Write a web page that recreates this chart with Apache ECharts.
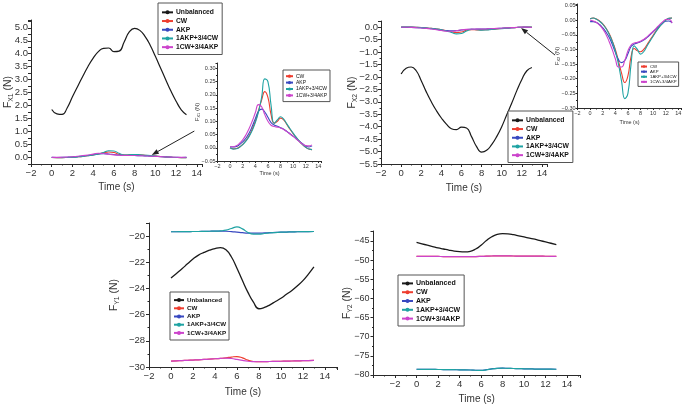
<!DOCTYPE html>
<html><head><meta charset="utf-8">
<script src="https://cdn.jsdelivr.net/npm/echarts@6/dist/echarts.min.js"></script>
<style>html,body{margin:0;padding:0;background:#fff}#c{width:685px;height:404px}</style>
</head><body><div id="c"></div>
<script>
// ---------- data ----------
const time = [0,0.5,1,1.5,2,2.5,3,3.5,4,4.5,5,5.5,6,6.5,7,7.5,8,8.5,9,9.5,10,10.5,11,11.5,12,12.5,13];
const seriesNames = ['Unbalanced','CW','AKP','1AKP+3/4CW','1CW+3/4AKP'];
const seriesColors = ['#1a1a1a','#ee3d2f','#3848c0','#1fa3a3','#cc44cc'];

const fx1Unbalanced = [1.85,1.68,1.66,1.92,2.34,2.74,3.13,3.51,3.83,4.08,4.21,4.22,4.08,4.10,4.46,4.85,4.98,4.90,4.67,4.33,3.90,3.45,3.00,2.56,2.17,1.84,1.65];
const fx1CW   = [0.000,-0.004,-0.003,0.003,0.013,0.027,0.045,0.070,0.100,0.140,0.180,0.212,0.190,0.125,0.093,0.100,0.112,0.105,0.088,0.070,0.053,0.038,0.024,0.012,0.002,-0.005,-0.007];
const fx1AKP  = [0.004,0.003,0.005,0.012,0.022,0.036,0.055,0.080,0.110,0.138,0.146,0.135,0.115,0.095,0.086,0.081,0.076,0.070,0.062,0.053,0.044,0.034,0.024,0.015,0.007,0.003,0.007];
const fx1AKPCW = [0.000,-0.005,-0.004,0.002,0.012,0.025,0.042,0.065,0.095,0.135,0.190,0.260,0.250,0.160,0.092,0.105,0.117,0.108,0.090,0.072,0.055,0.039,0.025,0.012,0.002,-0.005,-0.007];
const fx1CWAKP = [0.004,0.004,0.008,0.017,0.030,0.048,0.072,0.100,0.132,0.163,0.155,0.125,0.100,0.085,0.080,0.078,0.075,0.069,0.061,0.052,0.043,0.033,0.023,0.014,0.008,0.007,0.011];

const fx2Unbalanced = [-1.88,-1.65,-1.60,-1.75,-2.15,-2.60,-3.00,-3.35,-3.65,-3.90,-4.08,-4.12,-4.02,-4.05,-4.40,-4.80,-5.02,-4.95,-4.72,-4.40,-4.00,-3.52,-3.05,-2.55,-2.10,-1.75,-1.62];
const fx2CW   = [0.005,0.007,0.004,-0.003,-0.013,-0.027,-0.045,-0.070,-0.100,-0.140,-0.182,-0.213,-0.190,-0.125,-0.097,-0.105,-0.108,-0.100,-0.085,-0.068,-0.052,-0.036,-0.022,-0.010,0.000,0.006,0.007];
const fx2AKP  = [-0.005,-0.005,-0.008,-0.015,-0.026,-0.040,-0.058,-0.082,-0.110,-0.135,-0.145,-0.138,-0.115,-0.090,-0.082,-0.078,-0.074,-0.068,-0.060,-0.050,-0.040,-0.030,-0.020,-0.011,-0.004,-0.003,-0.010];
const fx2AKPCW = [0.005,0.007,0.003,-0.004,-0.014,-0.028,-0.047,-0.072,-0.105,-0.150,-0.210,-0.268,-0.250,-0.150,-0.088,-0.100,-0.116,-0.108,-0.090,-0.072,-0.055,-0.038,-0.023,-0.010,0.000,0.006,0.007];
const fx2CWAKP = [0.000,-0.003,-0.008,-0.017,-0.030,-0.048,-0.072,-0.100,-0.132,-0.160,-0.160,-0.138,-0.105,-0.085,-0.078,-0.076,-0.072,-0.066,-0.058,-0.048,-0.038,-0.027,-0.016,-0.006,0.002,0.003,-0.010];

const fy1Unbalanced = [-23.20,-22.85,-22.50,-22.12,-21.75,-21.45,-21.25,-21.08,-20.95,-20.88,-21.05,-21.60,-22.45,-23.40,-24.30,-25.05,-25.55,-25.45,-25.25,-25.00,-24.75,-24.45,-24.15,-23.80,-23.40,-22.90,-22.35];
const fy1CW   = [-29.55,-29.53,-29.51,-29.49,-29.47,-29.45,-29.42,-29.40,-29.37,-29.34,-29.30,-29.24,-29.20,-29.30,-29.48,-29.58,-29.60,-29.59,-29.58,-29.57,-29.56,-29.55,-29.54,-29.53,-29.52,-29.51,-29.50];
const fy1AKP  = [-19.67,-19.67,-19.66,-19.66,-19.65,-19.65,-19.64,-19.63,-19.62,-19.62,-19.63,-19.66,-19.70,-19.74,-19.77,-19.78,-19.78,-19.76,-19.74,-19.72,-19.70,-19.69,-19.68,-19.67,-19.66,-19.66,-19.65];
const fy1AKPCW = [-19.67,-19.67,-19.66,-19.66,-19.65,-19.65,-19.64,-19.63,-19.62,-19.60,-19.55,-19.42,-19.30,-19.45,-19.72,-19.85,-19.85,-19.80,-19.76,-19.73,-19.70,-19.69,-19.68,-19.67,-19.66,-19.66,-19.65];
const fy1CWAKP = [-29.55,-29.53,-29.51,-29.49,-29.47,-29.45,-29.42,-29.40,-29.37,-29.34,-29.32,-29.35,-29.42,-29.50,-29.56,-29.59,-29.60,-29.59,-29.58,-29.57,-29.56,-29.55,-29.54,-29.53,-29.52,-29.51,-29.50];

const fy2Unbalanced = [-45.40,-45.75,-46.10,-46.45,-46.80,-47.10,-47.40,-47.65,-47.80,-47.85,-47.70,-47.10,-46.10,-44.90,-43.90,-43.30,-43.10,-43.15,-43.35,-43.65,-43.95,-44.25,-44.55,-44.90,-45.25,-45.60,-45.95];
const fy2CW   = [-49.00,-49.01,-49.02,-49.04,-49.05,-49.07,-49.08,-49.09,-49.10,-49.10,-49.09,-49.07,-49.03,-48.98,-48.93,-48.90,-48.90,-48.91,-48.93,-48.94,-48.95,-48.96,-48.97,-48.98,-48.99,-49.00,-49.00];
const fy2AKP  = [-78.50,-78.51,-78.52,-78.54,-78.56,-78.58,-78.60,-78.62,-78.64,-78.66,-78.70,-78.76,-78.80,-78.62,-78.38,-78.25,-78.22,-78.26,-78.30,-78.34,-78.38,-78.41,-78.44,-78.46,-78.48,-78.49,-78.50];
const fy2AKPCW = [-78.50,-78.51,-78.52,-78.54,-78.56,-78.58,-78.60,-78.62,-78.64,-78.66,-78.70,-78.76,-78.80,-78.64,-78.40,-78.26,-78.22,-78.26,-78.30,-78.34,-78.38,-78.41,-78.44,-78.46,-78.48,-78.49,-78.50];
const fy2CWAKP = [-49.00,-49.01,-49.02,-49.04,-49.05,-49.07,-49.08,-49.09,-49.10,-49.10,-49.09,-49.07,-49.03,-48.98,-48.93,-48.90,-48.90,-48.91,-48.93,-48.94,-48.95,-48.96,-48.97,-48.98,-48.99,-49.00,-49.00];

// ---------- helpers ----------
const FONT = '"Liberation Sans", Arial, Helvetica, sans-serif';
const AX = '#2a2a2a';
function fmtLabel(step, dec, lo, hi) {
  return function (v) {
    const k = v / step;
    if (Math.abs(k - Math.round(k)) > 1e-6) return '';
    if (v < lo - 1e-9 || v > hi + 1e-9) return '';
    const a = Math.abs(v).toFixed(dec);
    return (v < -1e-9 ? '\u2212' : '') + a;
  };
}
function axisCommon(fs, margin, tickLen, minor) {
  return {
    axisLine: { show: true, onZero: false, lineStyle: { color: AX, width: 1 } },
    axisTick: { show: true, inside: false, length: tickLen, lineStyle: { color: AX, width: 1 } },
    minorTick: { show: minor > 0, splitNumber: minor || 2, length: Math.max(1.5, tickLen - 1.5), lineStyle: { color: AX, width: 1 } },
    splitLine: { show: false }, minorSplitLine: { show: false },
    axisLabel: { fontSize: fs, color: '#333', margin: margin, fontFamily: FONT, hideOverlap: false }
  };
}
function xAx(gi, min, max, fs, margin, tickLen, nameSize, nameGap, lo, hi) {
  const a = axisCommon(fs, margin, tickLen, 2);
  a.axisLabel.formatter = fmtLabel(2, 0, lo, hi);
  return Object.assign({ type: 'value', gridIndex: gi, min: min, max: max, interval: 2,
    name: 'Time (s)', nameLocation: 'middle', nameGap: nameGap, nameMoveOverlap: false,
    nameTextStyle: { fontSize: nameSize, color: '#333', fontFamily: FONT, verticalAlign: 'middle' } }, a);
}
function yAx(gi, min, max, interval, labStep, dec, lo, hi, minor, fs, margin, tickLen, sub, nameSize, nameGap) {
  const a = axisCommon(fs, margin, tickLen, minor);
  a.axisLabel.formatter = fmtLabel(labStep, dec, lo, hi);
  const ss = Math.round(nameSize * 0.65 * 10) / 10;
  const lh = Math.round(nameSize * 1.2);
  return Object.assign({ type: 'value', gridIndex: gi, min: min, max: max, interval: interval,
    name: '{m|F}{s|' + sub + '}{m| (N)}', nameLocation: 'middle', nameGap: nameGap, nameMoveOverlap: false,
    nameTextStyle: { fontFamily: FONT, verticalAlign: 'middle', rich: {
      m: { fontSize: nameSize, color: '#333', lineHeight: lh, fontFamily: FONT },
      s: { fontSize: ss, color: '#333', lineHeight: ss, padding: [lh - ss, 0, 0, 0], verticalAlign: 'bottom', fontFamily: FONT }
    } } }, a);
}
function mk(nameIdx, values, gi, width) {
  return { type: 'line', name: seriesNames[nameIdx], xAxisIndex: gi, yAxisIndex: gi,
    data: time.map((t, i) => [t, values[i]]), smooth: 0.5,
    symbol: 'circle', symbolSize: 3, showSymbol: false, silent: true,
    lineStyle: { width: width, color: seriesColors[nameIdx] },
    itemStyle: { color: seriesColors[nameIdx] }, z: 2 + nameIdx };
}
function lg(left, top, names, fs, bold, lh, iw, ih, pad) {
  return { show: true, orient: 'vertical', left: left, top: top, data: names,
    itemWidth: iw, itemHeight: ih, itemGap: 0, padding: pad,
    borderColor: '#555', borderWidth: 1, backgroundColor: '#fff', selectedMode: false,
    textStyle: { fontSize: fs, fontWeight: bold ? 'bold' : 'normal', color: '#111', lineHeight: lh, fontFamily: FONT, padding: [0,0,0,-2] } };
}

const grids = [
  { left: 31, top: 20, width: 171, height: 144 },      // Fx1
  { left: 217.5, top: 63, width: 104, height: 98 },    // Fx1 inset
  { left: 381, top: 21, width: 166, height: 143 },     // Fx2
  { left: 577.5, top: 4, width: 104, height: 104 },    // Fx2 inset
  { left: 149, top: 223, width: 188, height: 144 },    // Fy1
  { left: 373.5, top: 231, width: 206.5, height: 144 } // Fy2
].map(g => Object.assign({ show: false, containLabel: false, outerBoundsMode: 'none' }, g));

// nameGap for middle-aligned names = distance from axis line to text centre
const xAxes = [
  xAx(0, -2, 14.5, 9.5, 4, 3, 10, 23, -2, 14),
  xAx(1, -2, 14.5, 5.5, 2, 2, 5.5, 12, -2, 14),
  xAx(2, -2, 14.5, 9.5, 4, 3, 10, 24, -2, 14),
  xAx(3, -2, 14.5, 5.5, 2, 2, 5.5, 14, -2, 14),
  xAx(4, -2, 15.1, 9.5, 4, 3, 10, 25, -2, 14),
  xAx(5, -4, 15.2, 9.5, 4, 3, 10, 24, -2, 14)
];
const yAxes = [
  yAx(0, -0.25, 5.3, 0.25, 0.5, 1, 0, 5, 0, 9.5, 3, 3, 'X1', 10.5, 23),
  yAx(1, -0.05, 0.32, 0.05, 0.05, 2, -0.05, 0.30, 2, 5.5, 2, 2, 'X1', 6, 20),
  yAx(2, -5.5, 0.25, 0.5, 0.5, 1, -5.5, 0, 2, 9.5, 3, 3, 'X2', 10.5, 29),
  yAx(3, -0.30, 0.055, 0.05, 0.05, 2, -0.30, 0.05, 2, 5.5, 2, 2, 'X2', 6, 20),
  yAx(4, -30, -19, 2, 2, 0, -30, -20, 2, 9.5, 4, 3, 'Y1', 10.5, 35),
  yAx(5, -80, -42.4, 5, 5, 0, -80, -45, 2, 9, 4, 3, 'Y2', 10.5, 26)
];

const series = [
  mk(0, fx1Unbalanced, 0, 1.2), mk(1, fx1CW, 0, 1.1), mk(2, fx1AKP, 0, 1.1), mk(3, fx1AKPCW, 0, 1.1), mk(4, fx1CWAKP, 0, 1.1),
  mk(1, fx1CW, 1, 1.1), mk(2, fx1AKP, 1, 1.1), mk(3, fx1AKPCW, 1, 1.1), mk(4, fx1CWAKP, 1, 1.1),
  mk(0, fx2Unbalanced, 2, 1.2), mk(1, fx2CW, 2, 1.1), mk(2, fx2AKP, 2, 1.1), mk(3, fx2AKPCW, 2, 1.1), mk(4, fx2CWAKP, 2, 1.1),
  mk(1, fx2CW, 3, 1.1), mk(2, fx2AKP, 3, 1.1), mk(3, fx2AKPCW, 3, 1.1), mk(4, fx2CWAKP, 3, 1.1),
  mk(0, fy1Unbalanced, 4, 1.3), mk(1, fy1CW, 4, 1.2), mk(2, fy1AKP, 4, 1.2), mk(3, fy1AKPCW, 4, 1.2), mk(4, fy1CWAKP, 4, 1.2),
  mk(0, fy2Unbalanced, 5, 1.3), mk(1, fy2CW, 5, 1.2), mk(2, fy2AKP, 5, 1.2), mk(3, fy2AKPCW, 5, 1.2), mk(4, fy2CWAKP, 5, 1.2)
];

const small = seriesNames.slice(1);
const legends = [
  lg(158, 3, seriesNames, 6.7, true, 8.7, 11, 5, [5, 4, 3, 3]),
  lg(283, 70, small, 5.0, false, 6.4, 7, 4, [3, 3, 3, 2]),
  lg(508, 111, seriesNames, 6.8, true, 8.7, 11, 5, [5, 4, 3, 3]),
  lg(638, 62, small, 4.3, false, 5.1, 6, 3, [2, 2, 2, 2]),
  lg(170, 292, seriesNames, 6.2, true, 8.2, 10, 5, [4, 3, 3, 3]),
  lg(398, 275, seriesNames, 7.0, true, 8.8, 11, 5, [4, 4, 3, 3])
];

const chart = echarts.init(document.getElementById('c'), null, { renderer: 'canvas' });
chart.setOption({
  animation: false, backgroundColor: '#fff',
  textStyle: { fontFamily: FONT },
  grid: grids, xAxis: xAxes, yAxis: yAxes, legend: legends, series: series
});

// arrows (annotation), positioned in data coordinates of each panel
const arrows = [
  { grid: 0, from: [13.76, 1.02], to: [9.65, 0.10] },
  { grid: 2, from: [15.3, -1.12], to: [11.92, -0.03] }
];
const gfx = [];
arrows.forEach(a => {
  const p0 = chart.convertToPixel({ gridIndex: a.grid }, a.from);
  const p1 = chart.convertToPixel({ gridIndex: a.grid }, a.to);
  const dx = p1[0] - p0[0], dy = p1[1] - p0[1];
  const L = Math.sqrt(dx * dx + dy * dy), ux = dx / L, uy = dy / L;
  const hl = 7, hw = 2.6;
  const bx = p1[0] - ux * hl, by = p1[1] - uy * hl;
  gfx.push({ type: 'line', shape: { x1: p0[0], y1: p0[1], x2: bx, y2: by }, style: { stroke: '#222', lineWidth: 1 }, z: 100, silent: true });
  gfx.push({ type: 'polygon', shape: { points: [[p1[0], p1[1]], [bx - uy * hw, by + ux * hw], [bx + uy * hw, by - ux * hw]] }, style: { fill: '#222' }, z: 100, silent: true });
});
chart.setOption({ graphic: gfx });
</script>
</body></html>
